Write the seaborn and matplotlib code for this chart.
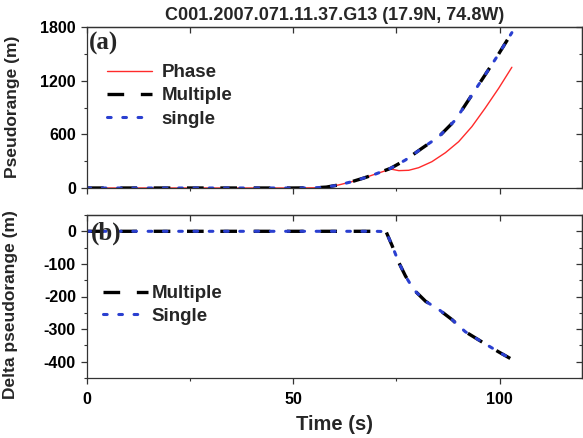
import matplotlib
matplotlib.use("Agg")
import matplotlib.pyplot as plt
from matplotlib.ticker import MultipleLocator
import seaborn as sns

# ---- data ----
t_top = [0, 10, 20, 30, 40, 50, 55, 58, 61, 64, 67, 70, 73.6, 77.2, 81.2, 85.3, 89.3, 92.5, 95.7, 99.4, 103]
multiple_top = [0, 0, 0, 0, 0, 0, 2, 10, 34, 68, 110, 157, 220, 313, 444, 574, 760, 984, 1208, 1469, 1737]
single_top = [0, 0, 0, 0, 0, 0, 2, 10, 34, 68, 110, 157, 220, 313, 444, 574, 760, 984, 1208, 1469, 1737]

t_phase = [0, 10, 20, 30, 40, 50, 55, 58, 61, 64, 67, 70, 73.6, 75.6, 78, 80.4, 83.6, 86.9, 90.1, 93.3, 96.5, 99.8, 103]
phase_top = [0, 0, 0, 0, 0, 0, 2, 10, 34, 68, 110, 157, 212, 194, 198, 227, 294, 395, 518, 686, 891, 1115, 1350]

t_bot = [0, 10, 20, 30, 40, 50, 60, 70, 72.5, 74, 75.6, 77.2, 79.2, 82.1, 85.3, 88.5, 91.7, 95.7, 99.8, 102.6]
multiple_delta = [0, 0, 0, 0, 0, 0, 0, 0, -1, -45, -96, -137, -179, -215, -240, -271, -308, -339, -370, -390]
single_delta = [0, 0, 0, 0, 0, 0, 0, 0, -1, -45, -96, -137, -179, -215, -240, -271, -308, -339, -370, -390]

title = "C001.2007.071.11.37.G13 (17.9N, 74.8W)"

sns.set_style("ticks")
plt.rcParams['font.family'] = ['Liberation Sans', 'DejaVu Sans']
plt.rcParams['font.weight'] = 'bold'
plt.rcParams['axes.unicode_minus'] = False

W, H = 583, 438
fig = plt.figure(figsize=(W / 100, H / 100), dpi=100)
ax1 = fig.add_axes([87 / W, 1 - 188 / H, 495 / W, 161 / H])
ax2 = fig.add_axes([87 / W, 1 - 378 / H, 495 / W, 163 / H])

RED = "#ff2a2a"
BLUE = "#2a3fd0"
dash_style = (0, (5, 5))
dot_style = (0, (1.2, 3.8))

sns.lineplot(x=t_phase, y=phase_top, ax=ax1, color=RED, linewidth=1.0, label="Phase")
sns.lineplot(x=t_top, y=multiple_top, ax=ax1, color="black", linewidth=2.4,
             linestyle=dash_style, label="Multiple")
sns.lineplot(x=t_top, y=single_top, ax=ax1, color=BLUE, linewidth=2.2,
             linestyle=dot_style, dash_capstyle='round', label="single")

sns.lineplot(x=t_bot, y=multiple_delta, ax=ax2, color="black", linewidth=2.4,
             linestyle=dash_style, label="Multiple")
sns.lineplot(x=t_bot, y=single_delta, ax=ax2, color=BLUE, linewidth=2.2,
             linestyle=dot_style, dash_capstyle='round', label="Single")

ax1.set_xlim(0, 120)
ax1.set_ylim(0, 1800)
ax2.set_xlim(0, 120)
ax2.set_ylim(-450, 50)

for ax in (ax1, ax2):
    for s in ax.spines.values():
        s.set_linewidth(0.9)
        s.set_color("#333333")
        s.set_visible(True)
    ax.xaxis.set_major_locator(MultipleLocator(50))
    ax.xaxis.set_minor_locator(MultipleLocator(25))
    ax.tick_params(which='major', direction='out', length=4, width=0.9, labelsize=11.5, pad=4,
                   colors="#333333", labelcolor="black")
    ax.tick_params(which='minor', direction='out', length=2.5, width=0.8, colors="#333333")
    # inward ticks on top
    sx = ax.secondary_xaxis('top')
    sx.xaxis.set_major_locator(MultipleLocator(25))
    sx.tick_params(direction='in', length=4, width=0.9, labeltop=False, colors="#333333")
    sx.spines['top'].set_linewidth(0.9)
    sx.spines['top'].set_color("#333333")

ax2.tick_params(axis='x', which='major', pad=6)

ax1.yaxis.set_major_locator(MultipleLocator(600))
ax1.yaxis.set_minor_locator(MultipleLocator(300))
ax2.yaxis.set_major_locator(MultipleLocator(100))
ax2.yaxis.set_minor_locator(MultipleLocator(50))

for ax, maj, mnr in ((ax1, 600, 300), (ax2, 100, 50)):
    sy = ax.secondary_yaxis('right')
    sy.yaxis.set_major_locator(MultipleLocator(maj))
    sy.yaxis.set_minor_locator(MultipleLocator(mnr))
    sy.tick_params(which='major', direction='in', length=4, width=0.9, labelright=False, colors="#333333")
    sy.tick_params(which='minor', direction='in', length=2.5, width=0.8, colors="#333333")
    sy.spines['right'].set_linewidth(0.9)
    sy.spines['right'].set_color("#333333")

for ax in (ax1, ax2):
    for lab in ax.get_xticklabels() + ax.get_yticklabels():
        lab.set_fontweight('bold')

ax1.tick_params(axis='x', labelbottom=False)
ax1.set_xlabel("")
ax2.set_xlabel("Time (s)", fontsize=14.5, fontweight='bold')
ax2.xaxis.set_label_coords(0.5, (378 - 425) / 163)
ax2.xaxis.label.set_va('center')
ax1.set_ylabel("Pseudorange (m)", fontsize=12.5, fontweight='bold')
ax2.set_ylabel("Delta pseudorange (m)", fontsize=12.5, fontweight='bold')
ax1.yaxis.label.set_va('center')
ax2.yaxis.label.set_va('center')
ax1.yaxis.set_label_coords((13 - 87) / 495, (188 - 107) / 161)
ax2.yaxis.set_label_coords((11 - 87) / 495, (378 - 305) / 163)

ax1.set_title(title, fontsize=13, fontweight='bold', pad=5)

ax1.text(0.004, 0.90, "(a)", transform=ax1.transAxes, fontsize=18, fontweight='bold',
         family=['Liberation Serif', 'DejaVu Serif'], va='center', ha='left')
ax2.text(0.008, 0.89, "(b)", transform=ax2.transAxes, fontsize=18, fontweight='bold',
         family=['Liberation Serif', 'DejaVu Serif'], va='center', ha='left')

leg1 = ax1.legend(loc='upper left', bbox_to_anchor=(107 / W, 1 - 64 / H), bbox_transform=fig.transFigure,
                  frameon=False, borderpad=0, borderaxespad=0, handlelength=2.4, handletextpad=0.5,
                  labelspacing=0.33, prop={'size': 13.5, 'weight': 'bold'})
leg2 = ax2.legend(loc='upper left', bbox_to_anchor=(103 / W, 1 - 285 / H), bbox_transform=fig.transFigure,
                  frameon=False, borderpad=0, borderaxespad=0, handlelength=2.4, handletextpad=0.2,
                  labelspacing=0.3, prop={'size': 13.5, 'weight': 'bold'})

fig.savefig("out.png", dpi=100)
